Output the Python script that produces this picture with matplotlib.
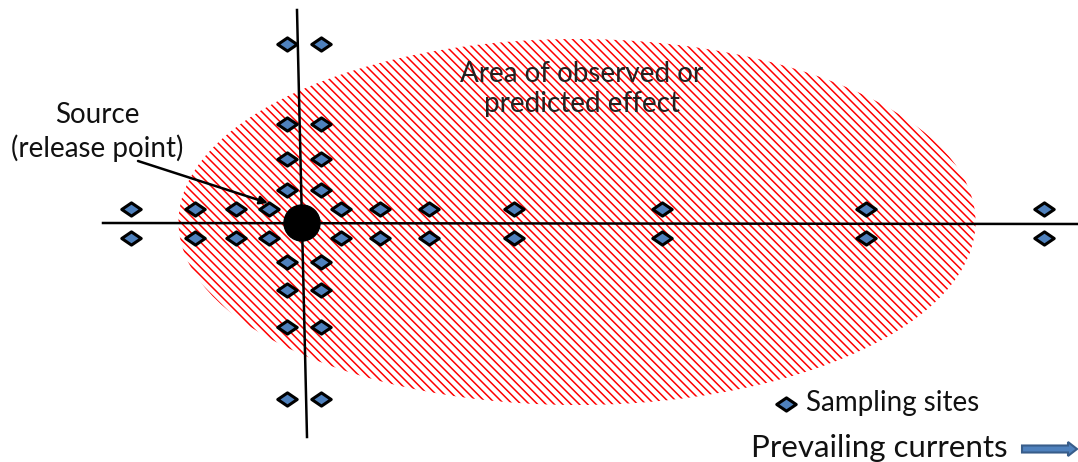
import matplotlib.pyplot as plt
import matplotlib.patches as mpatches
from matplotlib.path import Path
import numpy as np

plt.rcParams['font.family'] = ['Lato', 'DejaVu Sans']
plt.rcParams['hatch.linewidth'] = 1.1

# sampling sites along the current axis (x positions, pixel space)
row_x = [131, 195, 236, 269, 341, 380, 429, 514, 662, 866, 1044]
row_y_upper = 209
row_y_lower = 238

# sampling sites across the current axis (y positions)
col_y = [44, 124, 159, 190, 262, 290, 327, 399]
col_x_left = 287
col_x_right = 321

source = (302, 223)
effect_center = (577, 222)
effect_size = (797, 366)

fig = plt.figure(figsize=(10.78, 4.62), dpi=100)
ax = fig.add_axes([0, 0, 1, 1])
ax.set_xlim(0, 1078)
ax.set_ylim(462, 0)
ax.axis('off')

# area of effect (red hatching)
ell = mpatches.Ellipse(effect_center, effect_size[0], effect_size[1],
                       facecolor='white', edgecolor='#ff0000', lw=0, hatch='\\' * 4, zorder=1)
ax.add_patch(ell)

# axes lines
ax.plot([103, 1077], [223, 224], color='black', lw=1.8, zorder=2)
ax.plot([297, 307], [10, 437], color='black', lw=1.8, zorder=2)

# flattened diamond marker
diamond = Path([(-1, 0), (0, 0.68), (1, 0), (0, -0.68), (-1, 0)],
               [Path.MOVETO, Path.LINETO, Path.LINETO, Path.LINETO, Path.CLOSEPOLY])
mk = dict(marker=diamond, ms=14, mfc='#4f81bd', mec='black', mew=2.2, ls='none', zorder=4)

ax.plot(row_x, [row_y_upper] * len(row_x), **mk)
ax.plot(row_x, [row_y_lower] * len(row_x), **mk)
ax.plot([col_x_left] * len(col_y), col_y, **mk)
ax.plot([col_x_right] * len(col_y), col_y, **mk)

# source
ax.add_patch(mpatches.Ellipse(source, 36, 36, color='black', zorder=5))

# labels
ax.text(97, 132, 'Source\n(release point)', ha='center', va='center',
        fontsize=20, linespacing=1.3, color='#111111')
ax.annotate('', xy=(268, 203), xytext=(138, 161),
            arrowprops=dict(arrowstyle='-|>', color='black', lw=1.8,
                            mutation_scale=12, shrinkA=0, shrinkB=0))
ax.text(582, 89, 'Area of observed or\npredicted effect', ha='center', va='center',
        fontsize=20, linespacing=1.2, color='#222222', zorder=3)

# legend
ax.plot([786], [404], **mk)
ax.text(806, 403, 'Sampling sites', ha='left', va='center', fontsize=20, color='#111111')
ax.text(751, 448, 'Prevailing currents', ha='left', va='center', fontsize=22.5, color='#111111')
ax.add_patch(mpatches.FancyArrow(1022, 449, 55, 0, width=7, head_width=14,
                                 head_length=9, length_includes_head=True,
                                 facecolor='#4f81bd', edgecolor='#385d8a', lw=1.5, zorder=4))

fig.savefig('out.png', dpi=100)
